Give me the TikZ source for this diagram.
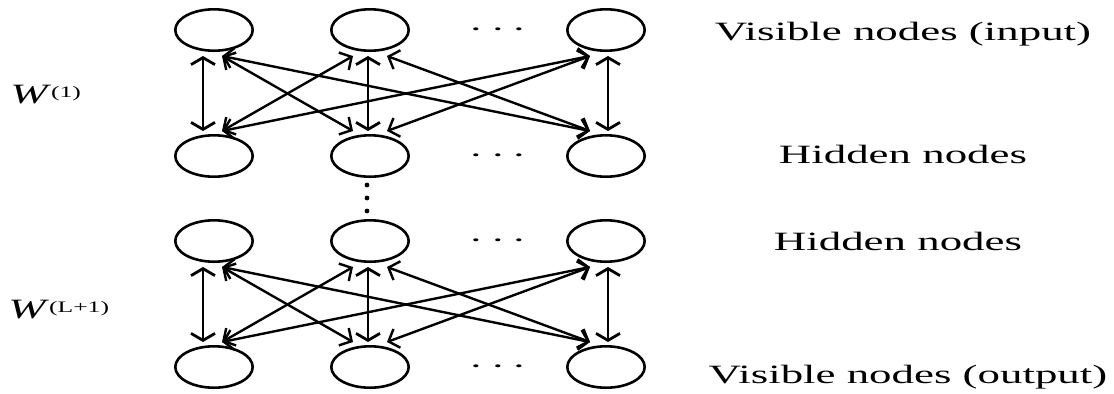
\documentclass[tikz,border=0pt]{standalone}
\usepackage{fontspec}
\setmainfont{Liberation Serif}
\usetikzlibrary{shapes.geometric,arrows.meta,calc}
\begin{document}
\begin{tikzpicture}[x=0.5pt,y=-0.5pt,
  unit/.style={draw, ellipse, line width=1.3pt, minimum width=38.7pt, minimum height=20.7pt, inner sep=0pt},
  link/.style={line width=1.2pt, {Straight Barb[length=4.5pt,width=10pt]}-{Straight Barb[length=4.5pt,width=10pt]}},
  vlink/.style={line width=1.4pt, {Straight Barb[length=3.5pt,width=12pt]}-{Straight Barb[length=3.5pt,width=12pt]}},
  lbl/.style={anchor=base, font=\fontsize{13.2}{15}\selectfont, inner sep=0pt},
  wlbl/.style={anchor=base west, font=\fontsize{14}{16}\selectfont, inner sep=0pt},
  dots/.style={inner sep=0pt, font=\fontsize{14}{15}\selectfont},
  dot/.style={fill, circle, inner sep=0pt, minimum size=2.4pt}
]
\useasboundingbox (0,0) rectangle (1114,393);

% nodes
\foreach \r/\y in {v/30,h/156,g/241,o/367}{
  \node[unit] (\r1) at (214,\y) {};
  \node[unit] (\r2) at (370,\y) {};
  \node[unit] (\r3) at (606,\y) {};
  \node[dots] (\r d) at (498,\y) {\scalebox{1.7}[1]{$\cdots$}};
}
\node[dot] (vd1) at (367,185) {};
\node[dot] (vd2) at (367,198) {};
\node[dot] (vd3) at (367,211) {};

% connections
\foreach \T/\B in {v/h,g/o}{
  \draw[vlink] ($(\T1.south)+(-11,4)$) -- ($(\B1.north)+(-11,-3)$);
  \draw[link] ($(\T1.south)+(8,4)$) -- ($(\B2.north)+(-17,-3)$);
  \draw[link] ($(\T1.south)+(8,4)$) -- ($(\B3.north)+(-16,-3)$);
  \draw[link] ($(\T2.south)+(-17,4)$) -- ($(\B1.north)+(8,-3)$);
  \draw[vlink] ($(\T2.south)+(-2,4)$) -- ($(\B2.north)+(-2,-3)$);
  \draw[link] ($(\T2.south)+(17,4)$) -- ($(\B3.north)+(-16,-3)$);
  \draw[link] ($(\T3.south)+(-16,4)$) -- ($(\B1.north)+(8,-3)$);
  \draw[link] ($(\T3.south)+(-16,4)$) -- ($(\B2.north)+(17,-3)$);
  \draw[vlink] ($(\T3.south)+(2,4)$) -- ($(\B3.north)+(2,-3)$);
}

% labels
\node[lbl] (l1) at (903,40) {\scalebox{1.7}[1]{Visible nodes (input)}};
\node[lbl] (l2) at (903,163) {\scalebox{1.7}[1]{Hidden nodes}};
\node[lbl] (l3) at (898,250) {\scalebox{1.7}[1]{Hidden nodes}};
\node[lbl] (l4) at (908,383) {\scalebox{1.7}[1]{Visible nodes (output)}};
\node[wlbl] (w1) at (10,103) {\scalebox{1.6}[1]{\textit{W}\raisebox{0.2em}{\footnotesize(1)}}};
\node[wlbl] (w2) at (8,318) {\scalebox{1.6}[1]{\textit{W}\raisebox{0.2em}{\footnotesize(L+1)}}};
\end{tikzpicture}
\end{document}
